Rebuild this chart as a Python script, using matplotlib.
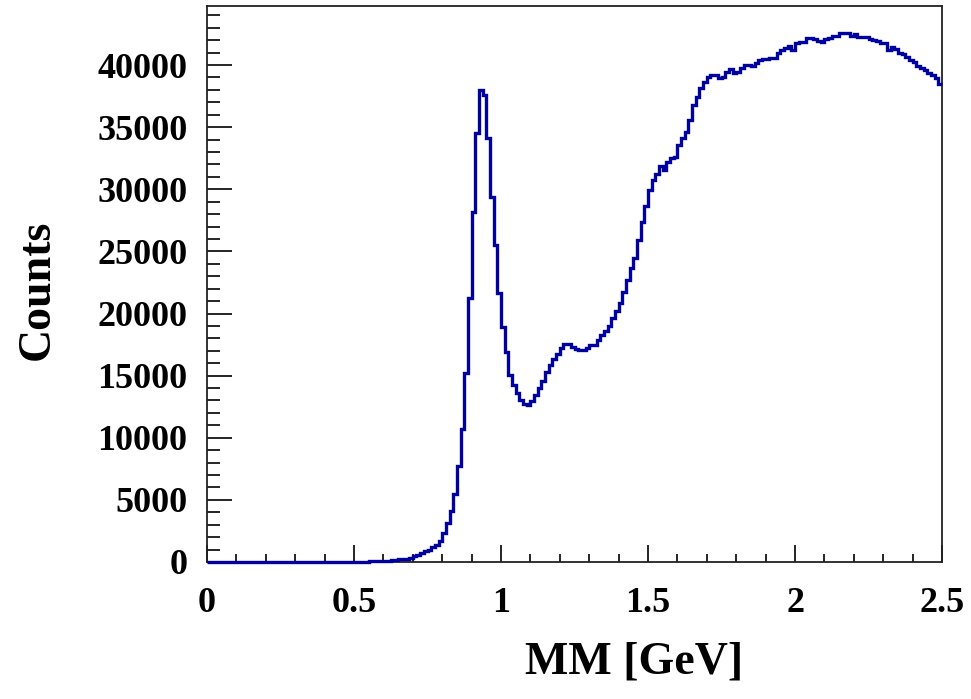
import numpy as np
import matplotlib
matplotlib.use("Agg")
import matplotlib.pyplot as plt
from matplotlib.ticker import MultipleLocator

# histogram: 200 bins from 0 to 2.5 GeV
mm_range = (0.0, 2.5)
counts = [
    0, 0, 0, 0, 0, 0, 0, 0, 0, 0, 0, 0, 0, 0, 0, 0, 0, 0, 0, 0,
    0, 0, 0, 0, 0, 0, 0, 0, 0, 0, 0, 0, 0, 0, 0, 0, 0, 0, 0, 0,
    0, 0, 0, 0, 60, 80, 90, 100, 110, 120, 140, 160, 220, 250, 280, 320,
    500, 560, 720, 850, 1000, 1200, 1400, 1650, 2300, 3100, 4100, 5500, 7700, 10700,
    15200, 21250, 28170, 34530, 38000, 37600, 34120, 29380, 25510, 21650,
    18910, 16900, 15050, 14250, 13600, 13040, 12720, 12640, 12960, 13440,
    14000, 14570, 15290, 15850, 16340, 16740, 17220, 17540, 17540, 17300,
    17140, 17060, 17060, 17220, 17460, 17460, 17870, 18270, 18590, 18990,
    19640, 20200, 20840, 21730, 22700, 23660, 24470, 25910, 27360, 28650,
    29940, 30740, 31230, 31870, 31550, 32190, 32510, 32590, 33560, 34120,
    34610, 35570, 36780, 37420, 38150, 38630, 39030, 39190, 39190, 38950,
    39030, 39440, 39680, 39350, 39440, 39760, 40000, 40000, 39920, 40160,
    40400, 40480, 40480, 40560, 40560, 40960, 41210, 41370, 41530, 41210,
    41770, 41850, 41850, 42170, 42170, 42090, 41930, 41850, 42090, 42170,
    42330, 42330, 42570, 42570, 42570, 42330, 42490, 42250, 42250, 42250,
    42090, 42010, 41930, 41770, 41770, 41210, 41450, 41290, 40960, 40880,
    40640, 40400, 40240, 39920, 39760, 39600, 39350, 39190, 38950, 38470,
]
y_ticks = [0, 5000, 10000, 15000, 20000, 25000, 30000, 35000, 40000]
x_ticks = [0, 0.5, 1, 1.5, 2, 2.5]
x_tick_labels = ["0", "0.5", "1", "1.5", "2", "2.5"]

plt.rcParams['font.family'] = ['Liberation Serif', 'DejaVu Serif']
plt.rcParams['font.weight'] = 'bold'

fig = plt.figure(figsize=(9.71, 6.99), dpi=100)
ax = fig.add_axes([207 / 971, 1 - 562 / 699, (942 - 207) / 971, (562 - 6) / 699])

edges = np.linspace(mm_range[0], mm_range[1], len(counts) + 1)
ax.stairs(counts, edges, baseline=None, color="#0000a0", linewidth=2.4,
          zorder=3, clip_on=False)

ax.set_xlim(*mm_range)
ax.set_ylim(0, 44750)

ax.set_yticks(y_ticks)
ax.set_yticklabels([str(v) for v in y_ticks])
ax.set_xticks(x_ticks)
ax.set_xticklabels(x_tick_labels)
ax.yaxis.set_minor_locator(MultipleLocator(1000))
ax.xaxis.set_minor_locator(MultipleLocator(0.1))

ax.tick_params(axis="y", which="major", direction="in", length=18, width=1.2,
               labelsize=26, pad=14, right=False)
ax.tick_params(axis="y", which="minor", direction="in", length=9, width=1.2, right=False)
ax.tick_params(axis="x", which="major", direction="in", length=12, width=1.2,
               labelsize=26, pad=18, top=False)
ax.tick_params(axis="x", which="minor", direction="in", length=6, width=1.2, top=False)

for s in ax.spines.values():
    s.set_linewidth(1.3)
    s.set_color("#222222")

fig.text(634 / 971, 1 - 662 / 699, "MM [GeV]", ha="center", va="center",
         fontsize=33, fontweight="bold")
fig.text(38 / 971, 1 - 290 / 699, "Counts", ha="center", va="center",
         rotation=90, fontsize=33, fontweight="bold")

fig.savefig("out.png", dpi=100)
plt.close(fig)
